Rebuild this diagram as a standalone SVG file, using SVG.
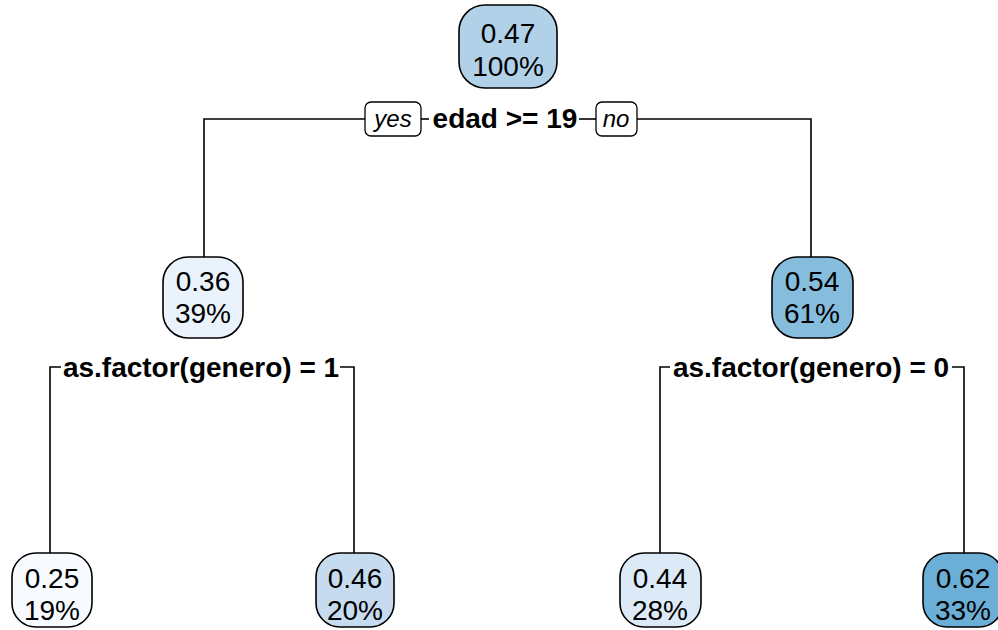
<svg xmlns="http://www.w3.org/2000/svg" width="998" height="630" viewBox="0 0 998 630">
<style>
.node rect{stroke:#000;stroke-width:1.6}
.val{font-family:"Liberation Sans",Arial,sans-serif;font-size:28px;fill:#000;text-anchor:middle}
.split{font-family:"Liberation Sans",Arial,sans-serif;font-size:28px;font-weight:bold;fill:#000;text-anchor:middle}
.yn{font-family:"Liberation Sans",Arial,sans-serif;font-size:24px;font-style:italic;fill:#000;text-anchor:middle}
.conn path{fill:none;stroke:#000;stroke-width:1.6}
.ynbox{fill:#fff;stroke:#000;stroke-width:1.3}
</style>
<rect width="998" height="630" fill="#fff"/>
<g id="connectors" class="conn">
<path d="M365 119 H204 V257"/>
<path d="M421 119 H429"/>
<path d="M579 119 H596"/>
<path d="M637 119 H811 V257"/>
<path d="M50 553 V367 H61"/>
<path d="M340 367 H354 V553"/>
<path d="M660 553 V367 H670"/>
<path d="M952 367 H964 V553"/>
</g>
<g id="labels">
<rect class="ynbox" x="365" y="102" width="56" height="34" rx="6"/>
<text class="yn" x="393" y="127">yes</text>
<text class="split" x="505" y="128">edad &gt;= 19</text>
<rect class="ynbox" x="596" y="102" width="41" height="34" rx="6"/>
<text class="yn" x="616" y="127">no</text>
<text class="split" x="201" y="377">as.factor(genero) = 1</text>
<text class="split" x="811" y="377">as.factor(genero) = 0</text>
</g>
<g id="n1" class="node">
<rect x="459" y="5" width="98" height="83" rx="26" fill="#b0d1e7"/>
<text class="val" x="508" y="43">0.47</text>
<text class="val" x="508" y="76">100%</text>
</g>
<g id="n2" class="node">
<rect x="163" y="257" width="80" height="81" rx="25" fill="#eaf3fc"/>
<text class="val" x="203" y="291">0.36</text>
<text class="val" x="203" y="323">39%</text>
</g>
<g id="n3" class="node">
<rect x="772" y="257" width="81" height="81" rx="25" fill="#86bddc"/>
<text class="val" x="812" y="291">0.54</text>
<text class="val" x="812" y="323">61%</text>
</g>
<g id="n4" class="node">
<rect x="12" y="553" width="80" height="74" rx="24" fill="#f7fbff"/>
<text class="val" x="52" y="588">0.25</text>
<text class="val" x="52" y="620">19%</text>
</g>
<g id="n5" class="node">
<rect x="316" y="553" width="78" height="74" rx="24" fill="#c6dbef"/>
<text class="val" x="355" y="588">0.46</text>
<text class="val" x="355" y="620">20%</text>
</g>
<g id="n6" class="node">
<rect x="620" y="553" width="81" height="74" rx="24" fill="#dce9f6"/>
<text class="val" x="660" y="588">0.44</text>
<text class="val" x="660" y="620">28%</text>
</g>
<g id="n7" class="node">
<rect x="923" y="553" width="80" height="74" rx="24" fill="#6baed6"/>
<text class="val" x="963" y="588">0.62</text>
<text class="val" x="963" y="620">33%</text>
</g>
</svg>
